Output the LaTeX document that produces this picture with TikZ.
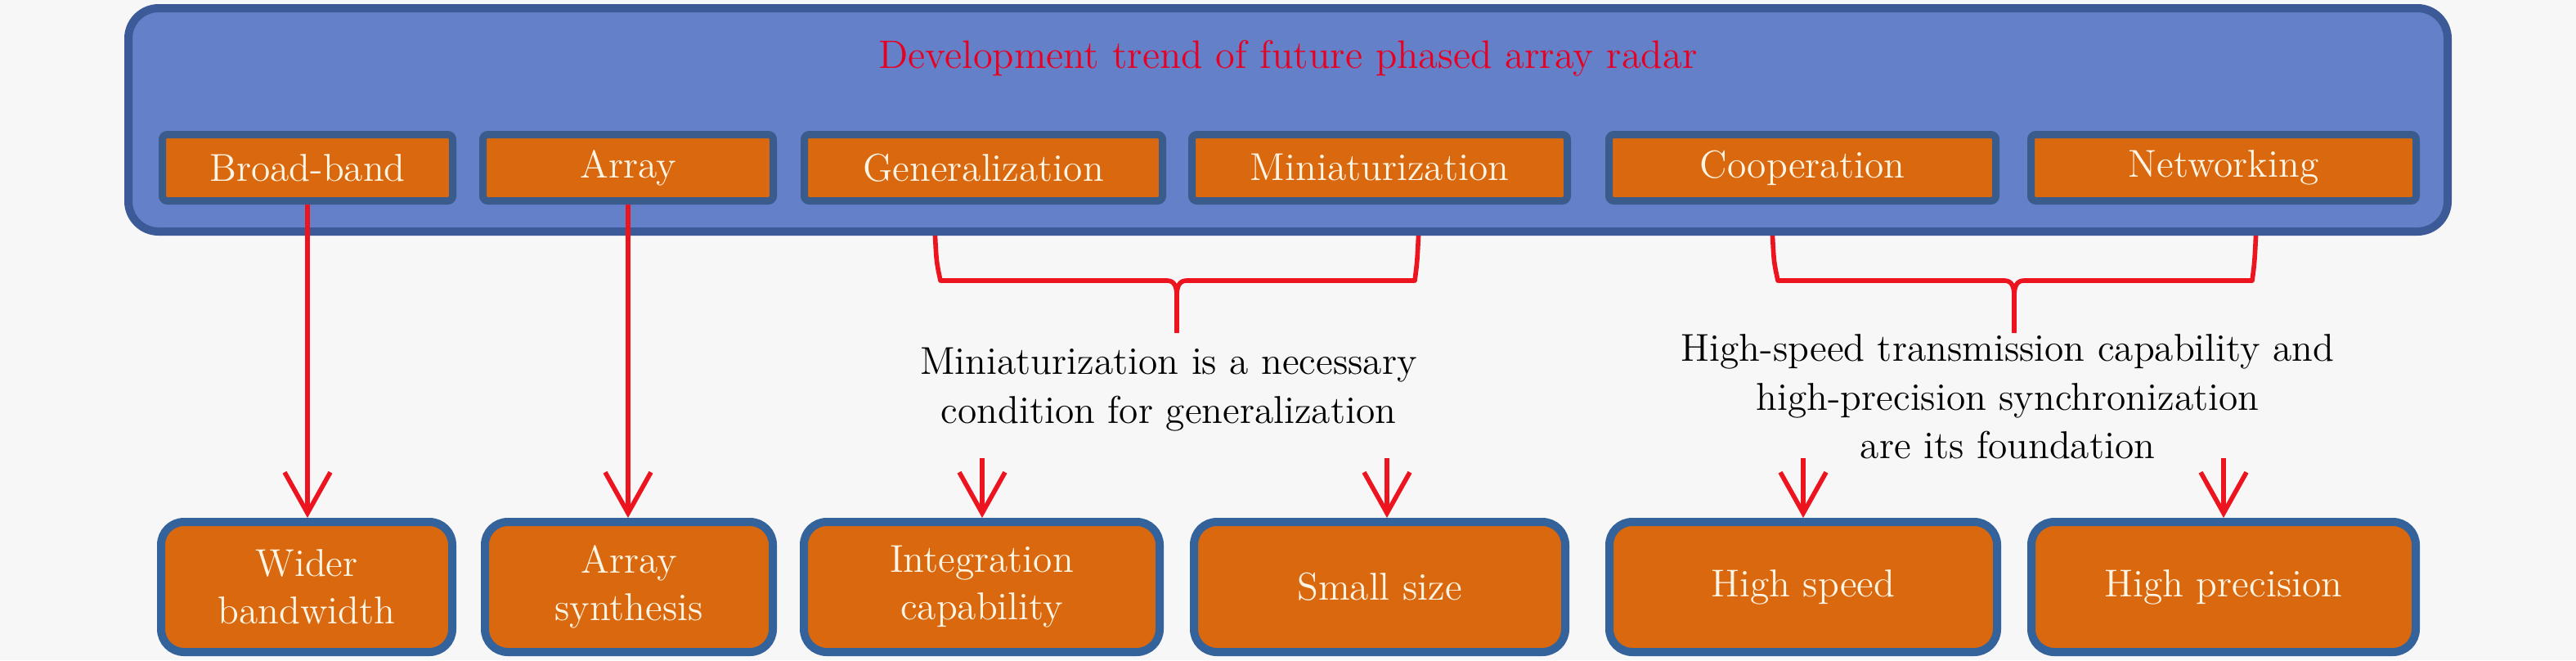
\documentclass[tikz,border=0pt]{standalone}
\usetikzlibrary{arrows.meta}
\definecolor{bgc}{RGB}{247,247,248}
\definecolor{framefill}{RGB}{100,128,200}
\definecolor{frameedge}{RGB}{60,90,152}
\definecolor{boxorange}{RGB}{217,104,14}
\definecolor{topedge}{RGB}{58,92,140}
\definecolor{botedge}{RGB}{52,98,155}
\definecolor{boxtext}{RGB}{255,245,228}
\definecolor{linkred}{RGB}{236,20,30}
\definecolor{titlered}{RGB}{232,0,35}
\begin{document}
\begin{tikzpicture}[x=1cm,y=1cm,font=\fontsize{13.5}{16.5}\selectfont,
  bigframe/.style={draw=frameedge, fill=framefill, line width=0.10cm, rounded corners=0.37cm, inner sep=0pt},
  topbox/.style={draw=topedge, fill=boxorange, line width=0.09cm, rounded corners=0.06cm, minimum height=0.81cm, inner sep=0pt, text=boxtext},
  botbox/.style={draw=botedge, fill=boxorange, line width=0.10cm, rounded corners=0.28cm, minimum height=1.59cm, inner sep=0pt, text=boxtext, align=center},
  link/.style={draw=linkred, line width=1.6pt, -{Straight Barb[length=0.5cm,width=0.56cm]}},
  bracepath/.style={draw=linkred, line width=1.6pt, line join=round},
  note/.style={align=center, text=black, inner sep=0pt, font=\fontsize{13.5}{17}\selectfont},
  titletext/.style={text=titlered, inner sep=0pt, font=\fontsize{13.8}{16.5}\selectfont}]
\useasboundingbox[fill=bgc] (0,0) rectangle (31.5,-8.07);

% braces (drawn first, partly hidden under the frame border)
\coordinate (gl) at (11.43,-2.78);
\coordinate (gr) at (17.35,-2.78);
\coordinate (gt) at (14.39,-4.07);
\draw[bracepath] (gl) .. controls (11.45,-3.2) .. (11.50,-3.43) -- (14.27,-3.43)
  .. controls (14.36,-3.43) and (14.39,-3.50) .. (14.39,-3.62) -- (gt);
\draw[bracepath] (gr) .. controls (17.33,-3.2) .. (17.30,-3.43) -- (14.51,-3.43)
  .. controls (14.42,-3.43) and (14.39,-3.50) .. (14.39,-3.62);

\coordinate (cl) at (21.67,-2.78);
\coordinate (cr) at (27.59,-2.78);
\coordinate (ct) at (24.63,-4.07);
\draw[bracepath] (cl) .. controls (21.69,-3.2) .. (21.74,-3.43) -- (24.51,-3.43)
  .. controls (24.60,-3.43) and (24.63,-3.50) .. (24.63,-3.62) -- (ct);
\draw[bracepath] (cr) .. controls (27.57,-3.2) .. (27.54,-3.43) -- (24.75,-3.43)
  .. controls (24.66,-3.43) and (24.63,-3.50) .. (24.63,-3.62);

% big frame
\node[bigframe, minimum width=28.36cm, minimum height=2.73cm] (frame) at (15.75,-1.465) {};
\node[titletext] (title) at (15.75,-0.715) {Development trend of future phased array radar};

% top boxes
\node[topbox, minimum width=3.55cm] (bb) at (3.76,-2.05) {Broad-band};
\node[topbox, minimum width=3.55cm] (ar) at (7.68,-2.05) {Array};
\node[topbox, minimum width=4.38cm] (ge) at (12.025,-2.05) {Generalization};
\node[topbox, minimum width=4.59cm] (mi) at (16.87,-2.05) {Miniaturization};
\node[topbox, minimum width=4.73cm] (co) at (22.04,-2.05) {Cooperation};
\node[topbox, minimum width=4.71cm] (ne) at (27.19,-2.05) {Networking};

% bottom boxes
\node[botbox, minimum width=3.56cm] (wb) at (3.75,-7.175) {Wider\\bandwidth};
\node[botbox, minimum width=3.52cm] (as) at (7.69,-7.175) {Array\\synthesis};
\node[botbox, minimum width=4.35cm] (ic) at (12.005,-7.175) {Integration\\capability};
\node[botbox, minimum width=4.54cm] (ss) at (16.87,-7.175) {Small size};
\node[botbox, minimum width=4.74cm] (hs) at (22.05,-7.175) {High speed};
\node[botbox, minimum width=4.70cm] (hp) at (27.19,-7.175) {High precision};

% notes
\node[note] (n1) at (14.29,-4.76) {Miniaturization is a necessary\\condition for generalization};
\node[note] (n2) at (24.55,-4.85) {High-speed transmission capability and\\high-precision synchronization\\are its foundation};

% arrows
\draw[link] (bb.south) -- (bb.south |- wb.north);
\draw[link] (ar.south) -- (ar.south |- as.north);
\coordinate (a3) at (12.01,-5.60);
\coordinate (a4) at (16.96,-5.60);
\coordinate (a5) at (22.05,-5.60);
\coordinate (a6) at (27.19,-5.60);
\draw[link] (a3) -- (a3 |- ic.north);
\draw[link] (a4) -- (a4 |- ss.north);
\draw[link] (a5) -- (a5 |- hs.north);
\draw[link] (a6) -- (a6 |- hp.north);
\end{tikzpicture}
\end{document}
